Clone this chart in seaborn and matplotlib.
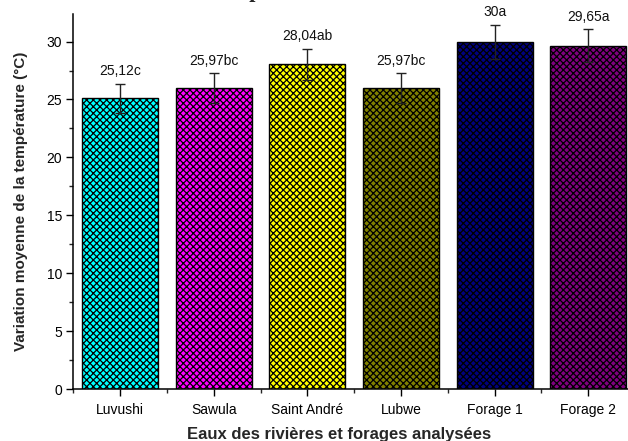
import matplotlib
matplotlib.use("Agg")
import matplotlib.pyplot as plt
from matplotlib.ticker import MultipleLocator, FixedLocator
import seaborn as sns
import pandas as pd

# Mean water temperature per sampling site
sites = ["Luvushi", "Sawula", "Saint André", "Lubwe", "Forage 1", "Forage 2"]
temperature = [25.12, 25.97, 28.04, 25.97, 30.0, 29.65]
std_dev = [1.25, 1.29, 1.34, 1.31, 1.47, 1.41]
groups = ["c", "bc", "ab", "bc", "a", "a"]
value_text = ["25,12", "25,97", "28,04", "25,97", "30", "29,65"]
bar_colors = ["#00FFFF", "#FF00FF", "#FFFF00", "#808000", "#000080", "#800080"]

sns.set_style("ticks")
plt.rcParams["font.family"] = ["Liberation Sans", "DejaVu Sans"]
plt.rcParams["hatch.linewidth"] = 0.9
plt.rcParams["hatch.color"] = "black"

df = pd.DataFrame({"site": sites, "temp": temperature})

fig = plt.figure(figsize=(6.28, 4.41), dpi=100)
ax = fig.add_axes([0.1167, 0.1179, 0.8946, 0.8503])

sns.barplot(data=df, x="site", y="temp", hue="site", palette=bar_colors,
            legend=False, width=0.81, edgecolor="black", linewidth=1.0,
            saturation=1, errorbar=None, ax=ax)
for patch in ax.patches:
    patch.set_hatch("xxxxx")
    patch.set_edgecolor("black")

ax.errorbar(range(len(sites)), temperature, yerr=std_dev, fmt="none",
            ecolor="#222222", elinewidth=1.0, capsize=3.5, capthick=1.0)

for i, (v, e) in enumerate(zip(temperature, std_dev)):
    ax.annotate(value_text[i] + groups[i], xy=(i, v + e), xytext=(0, 4),
                textcoords="offset points", ha="center", va="bottom",
                fontsize=10, color="#111111")

ax.set_xlim(-0.5, 5.5)
ax.set_ylim(0, 32.38)
ax.yaxis.set_major_locator(MultipleLocator(5))
ax.yaxis.set_minor_locator(MultipleLocator(2.5))
ax.xaxis.set_minor_locator(FixedLocator([i + 0.5 for i in range(-1, 6)]))
ax.tick_params(axis="both", which="major", direction="out", length=5,
               width=1, labelsize=10, colors="black", pad=3)
ax.tick_params(axis="both", which="minor", direction="out", length=3, width=1)
ax.tick_params(axis="x", which="major", pad=5)

for side in ["top", "right"]:
    ax.spines[side].set_visible(False)
for side in ["left", "bottom"]:
    ax.spines[side].set_linewidth(1.1)
    ax.spines[side].set_color("black")

ax.set_xlabel("Eaux des rivières et forages analysées", fontsize=12,
              fontweight="bold")
ax.xaxis.set_label_coords((339 - 73.3) / (635.1 - 73.3), -0.1)
ax.set_ylabel("Variation moyenne de la température (°C)", fontsize=11,
              fontweight="bold", labelpad=13)

fig.text(209 / 628, 1.0 + 3 / 441, "Température", fontsize=16,
         fontweight="bold", family=["Liberation Serif", "DejaVu Serif"],
         ha="left", va="baseline")

fig.savefig("out.png", dpi=100)
